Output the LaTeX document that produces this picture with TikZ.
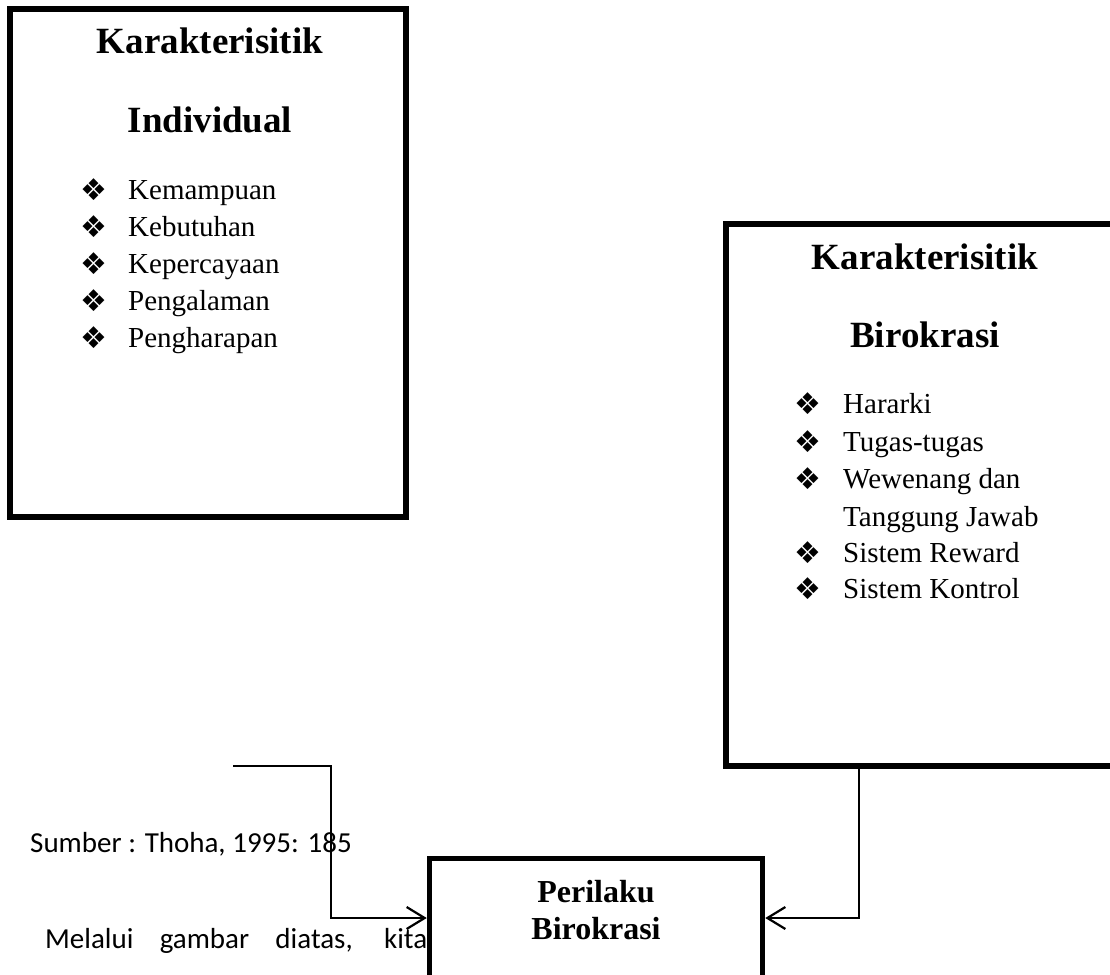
\documentclass[tikz,border=0pt]{standalone}
\usepackage{fontspec}
\setmainfont{Liberation Serif}
\newfontfamily\calibfont{Carlito}
\newfontfamily\dejafont{DejaVu Sans}
\usetikzlibrary{arrows.meta}
\begin{document}
\begin{tikzpicture}[x=1pt,y=-1pt,
  box/.style={draw, line width=5.5pt, inner sep=0pt},
  conn/.style={line width=2.3pt, -{Straight Barb[length=18pt,width=22pt,line width=2.2pt]}},
  title/.style={anchor=base, inner sep=0pt, font=\bfseries\fontsize{37}{44}\selectfont},
  item/.style={anchor=base west, inner sep=0pt, font=\fontsize{29}{34}\selectfont},
  bul/.style={anchor=center, inner sep=0pt, font=\dejafont\fontsize{30}{34}\selectfont},
  ptext/.style={anchor=base, inner sep=0pt, font=\bfseries\fontsize{32}{38}\selectfont},
  body/.style={anchor=base west, inner sep=0pt, font=\calibfont\fontsize{29}{34}\selectfont}]
\useasboundingbox (0,0) rectangle (1110,974);
\clip (0,0) rectangle (1110,974);
% boxes
\node[box, minimum width=396pt, minimum height=508pt] (indiv) at (208,263) {};
\node[box, minimum width=396pt, minimum height=542pt] (birok) at (924,495) {};
\node[box, minimum width=333pt, minimum height=160pt] (peril) at (596,938.5) {};
% left box text
\node[title] (t1a) at (210,53) {Karakterisitik};
\node[title] (t1b) at (210,132) {Individual};
\foreach \i/\t [count=\k] in {199/Kemampuan,236/Kebutuhan,273/Kepercayaan,310/Pengalaman,347/Pengharapan}{
  \node[bul] (b1\k) at (94,\i-9) {❖};
  \node[item] (i1\k) at (128,\i) {\t};
}
% right box text
\node[title] (t2a) at (925,269) {Karakterisitik};
\node[title] (t2b) at (925,347) {Birokrasi};
\foreach \i/\t [count=\k] in {413/Hararki,451/Tugas-tugas,488/Wewenang dan,562/Sistem Reward,598/Sistem Kontrol}{
  \node[bul] (b2\k) at (808,\i-9) {❖};
  \node[item] (i2\k) at (843,\i) {\t};
}
\node[item] (i2x) at (843,526) {Tanggung Jawab};
% bottom box text
\node[ptext] (p1) at (596,902) {Perilaku};
\node[ptext] (p2) at (596,939) {Birokrasi};
% free texts
\node[body] (sumber) at (30,852) {Sumber : Thoha, 1995: 185};
\node[body] (melalui) at (45,948) {\makebox[382pt][s]{Melalui gambar diatas, kita}};
% connectors
\coordinate (lstart) at (233,766);
\coordinate (lbend) at (331,918);
\coordinate (rbend) at (859,918);
\draw[conn] (lstart) -| (lbend) -- (peril.west |- lbend);
\draw[conn] (birok.south -| rbend) -- (rbend) -- (peril.east |- rbend);
\end{tikzpicture}
\end{document}
